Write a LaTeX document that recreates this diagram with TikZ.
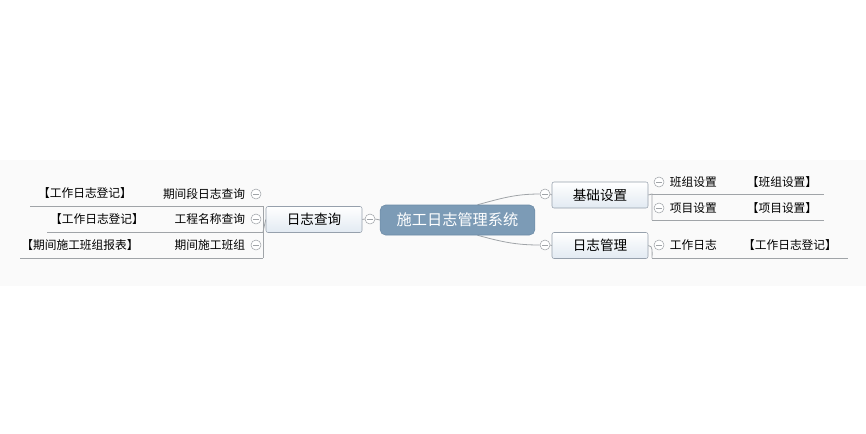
\documentclass[tikz,border=0pt]{standalone}
\usepackage{fontspec}
\setmainfont{Noto Sans CJK SC}
\usetikzlibrary{positioning}
\usetikzlibrary{backgrounds}
\definecolor{linegray}{RGB}{160,164,168}
\definecolor{rootblue}{RGB}{124,155,182}
\definecolor{rootedge}{RGB}{108,138,165}
\definecolor{boxedge}{RGB}{150,160,172}
\definecolor{boxfill}{RGB}{226,234,242}
\definecolor{bandgray}{RGB}{250,250,250}
\tikzset{mymap/.style={x=0.75pt, y=-0.75pt, font=\fontsize{8.8}{10}\selectfont},
root/.style={draw=rootedge, fill=rootblue, rounded corners=4pt, text=white,
	minimum width=116pt, minimum height=22.5pt, font=\fontsize{11.4}{13}\selectfont},
topic/.style={draw=boxedge, top color=white, bottom color=boxfill, rounded corners=1.5pt,
	minimum width=72pt, minimum height=19.5pt, font=\fontsize{10.2}{12}\selectfont},
leaf/.style={inner sep=1pt},
tog/.style={circle, draw=linegray, fill=white, minimum size=7.5pt, inner sep=0pt,
	path picture={\draw[linegray] ([xshift=-2.2pt]path picture bounding box.center)
		-- ([xshift=2.2pt]path picture bounding box.center);}},
conn/.style={draw=linegray, line width=0.6pt}}

\begin{document}
\begin{tikzpicture}[mymap]
	\useasboundingbox (0,0) rectangle (866,433);

	\node[root] (sys) at (457.5,220) {施工日志管理系统};

	% left: 日志查询
	\node[topic] (query) at (314,219.5) {日志查询};
	\node[tog] (tquery) at (370,219) {};
	\node[tog] (tq1) at (256,194) {};
	\node[tog] (tq2) at (256,219) {};
	\node[tog] (tq3) at (256,245) {};
	\node[leaf, left=3pt of tq1] (q1) {期间段日志查询};
	\node[leaf, left=3pt of tq2] (q2) {工程名称查询};
	\node[leaf, left=3pt of tq3] (q3) {期间施工班组};
	\node[leaf] (q1r) at (85,193) {【工作日志登记】};
	\node[leaf] (q2r) at (97,219) {【工作日志登记】};
	\node[leaf] (q3r) at (80,245) {【期间施工班组报表】};
	\coordinate (q1e) at (263,206);
	\coordinate (q2e) at (263,232);
	\coordinate (q3e) at (263,258);
	\coordinate (q1s) at (30,206);
	\coordinate (q2s) at (47,232);
	\coordinate (q3s) at (20,258);

	% right: 基础设置, 日志管理
	\node[topic] (base) at (600,195) {基础设置};
	\node[topic] (log) at (600,245.5) {日志管理};
	\node[tog] (tbase) at (545,194) {};
	\node[tog] (tlog) at (545,245) {};
	\node[tog] (tb1) at (659,182) {};
	\node[tog] (tb2) at (659,208) {};
	\node[tog] (tl1) at (659,245) {};
	\node[leaf, right=3pt of tb1] (b1) {班组设置};
	\node[leaf, right=3pt of tb2] (b2) {项目设置};
	\node[leaf, right=3pt of tl1] (l1) {工作日志};
	\node[leaf] (b1r) at (782,182) {【班组设置】};
	\node[leaf] (b2r) at (782,208) {【项目设置】};
	\node[leaf] (l1r) at (790,245) {【工作日志登记】};
	\coordinate (b1s) at (652,194);
	\coordinate (b2s) at (652,220);
	\coordinate (l1s) at (652,258);
	\coordinate (b1e) at (824,194);
	\coordinate (b2e) at (824,220);
	\coordinate (l1e) at (848,258);

	\begin{scope}[on background layer]
		\fill[bandgray] (0,160) rectangle (866,286);
		\draw[conn] (sys.west) -- (tquery.east);
		\draw[conn] (tquery.west) -- (query.east);
		\draw[conn] (query.west) -- (q2e);
		\draw[conn] (q1e) -- (q3e);
		\draw[conn] (q1s) -- (q1e);
		\draw[conn] (q2s) -- (q2e);
		\draw[conn] (q3s) -- (q3e);
		\draw[conn] ([xshift=15pt]sys.north) to[out=15,in=180] (tbase.west);
		\draw[conn] ([xshift=15pt]sys.south) to[out=-15,in=180] (tlog.west);
		\draw[conn] (tbase.east) -- (base.west);
		\draw[conn] (tlog.east) -- (log.west);
		\draw[conn] (base.east) -- (b1s) -- (b2s);
		\draw[conn] (log.east) to[out=0,in=90] (l1s);
		\draw[conn] (b1s) -- (b1e);
		\draw[conn] (b2s) -- (b2e);
		\draw[conn] (l1s) -- (l1e);
	\end{scope}
\end{tikzpicture}
\end{document}
